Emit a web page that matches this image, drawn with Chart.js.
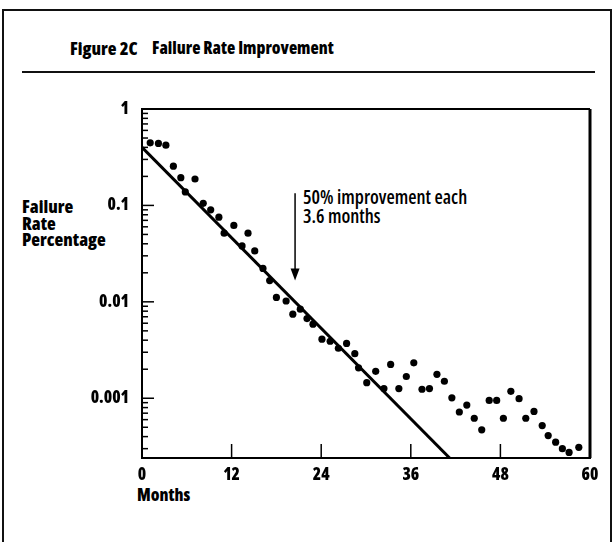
<!DOCTYPE html>
<html>
<head>
<meta charset="utf-8">
<script src="https://cdn.jsdelivr.net/npm/chart.js@4/dist/chart.umd.min.js"></script>
<style>
  body { margin: 0; background: #fff; }
  #wrap { position: relative; width: 614px; height: 542px; overflow: hidden; background: #fff; }
  #chart { position: absolute; left: 0; top: 0; }
  .txt { position: absolute; font-family: "Open Sans", Arial, sans-serif; font-stretch: 75%; color: #000; white-space: nowrap; }
  .b { font-weight: 800; }
  .rule { position: absolute; background: #111; }
</style>
</head>
<body>
<div id="wrap">
  <div class="rule" style="left:2px; top:9px; width:610px; height:2px;"></div>
  <div class="rule" style="left:2px; top:9px; width:2px; height:533px;"></div>
  <div class="rule" style="left:610px; top:9px; width:2px; height:533px;"></div>
  <div class="txt b" style="left:70px; top:36px; font-size:18px;">Figure 2C</div>
  <div class="txt b" style="left:152px; top:36px; font-size:17px;">Failure Rate Improvement</div>
  <div class="rule" style="left:22px; top:71px; width:573px; height:2px;"></div>
  <div class="txt b" style="left:22px; top:198px; font-size:18px; line-height:16.5px;">Failure<br>Rate<br>Percentage</div>
  <div class="txt b" style="left:137px; top:483px; font-size:17px;">Months</div>
  <div class="txt" style="left:303px; top:188px; font-size:19px; font-weight:600; line-height:19px;">50% improvement each<br>3.6 months</div>
  <canvas id="chart" width="614" height="542"></canvas>
</div>
<script>
// scatter points (month, failure rate %)
const months = [1.1, 2.2, 3.2, 4.2, 5.2, 5.8, 7.1, 8.2, 9.2, 10.3,
  11.0, 12.3, 13.4, 14.2, 15.1, 16.2, 17.1, 18.0, 19.3, 20.2,
  21.2, 22.1, 22.9, 24.1, 25.2, 26.3, 27.4, 28.5, 29.0, 30.1,
  31.3, 32.4, 33.3, 34.4, 35.4, 36.4, 37.5, 38.5, 39.5, 40.5,
  41.5, 42.5, 43.5, 44.5, 45.5, 46.5, 47.5, 48.4, 49.4, 50.5,
  51.4, 52.5, 53.6, 54.4, 55.4, 56.3, 57.2, 58.5];
const failureRate = [0.446, 0.439, 0.422, 0.255, 0.194, 0.138, 0.188, 0.105, 0.09, 0.0756,
  0.0515, 0.062, 0.038, 0.0515, 0.0337, 0.0222, 0.0166, 0.0111, 0.0102, 0.00745,
  0.0084, 0.0067, 0.00586, 0.0041, 0.0039, 0.0033, 0.0037, 0.0029, 0.00207, 0.00145,
  0.0019, 0.00126, 0.00224, 0.00126, 0.00168, 0.00233, 0.00124, 0.00126, 0.00177, 0.0015,
  0.00101, 0.00072, 0.00085, 0.00062, 0.00047, 0.00095, 0.00095, 0.00062, 0.00118, 0.00099,
  0.00062, 0.00073, 0.00052, 0.00041, 0.00035, 0.0003, 0.000274, 0.00031];

// fitted trend line
const fitMonths = [0, 41.2];
const fitRate = [0.4, 0.00024];

const xTicks = [0, 12, 24, 36, 48, 60];
const yTicks = [1, 0.1, 0.01, 0.001];
const yMin = 0.00024;
const yMax = 1;

// arrow annotation (month, top value, tip value)
const arrowMonth = 20.5;
const arrowTop = 0.1334;
const arrowTip = 0.0166;

const labelFont = { family: '"Open Sans", Arial, sans-serif', size: 17, weight: '800 ultra-condensed' };

function isDecade(v) {
  const l = Math.log10(v);
  return Math.abs(l - Math.round(l)) < 1e-6;
}

const framePlugin = {
  id: 'frame',
  afterDraw(chart) {
    const ctx = chart.ctx;
    const a = chart.chartArea;
    const xs = chart.scales.x;
    const ys = chart.scales.y;
    ctx.save();
    ctx.strokeStyle = '#000';
    // top and right edge of plot box
    ctx.lineWidth = 2;
    ctx.beginPath();
    ctx.moveTo(a.left, a.top);
    ctx.lineTo(a.right, a.top);
    ctx.stroke();
    ctx.lineWidth = 3;
    ctx.beginPath();
    ctx.moveTo(a.right, a.top);
    ctx.lineTo(a.right, a.bottom);
    ctx.stroke();

    // inward ticks on the log axis
    ctx.lineWidth = 1.5;
    for (let e = -4; e <= 0; e++) {
      for (let s = 1; s <= 9; s++) {
        const v = s * Math.pow(10, e);
        if (v < yMin || v > yMax) continue;
        const y = ys.getPixelForValue(v);
        const len = s === 1 ? 12 : 6;
        ctx.beginPath();
        ctx.moveTo(a.left, y);
        ctx.lineTo(a.left + len, y);
        ctx.stroke();
      }
    }
    // inward ticks on the month axis
    xTicks.slice(1, -1).forEach((m) => {
      const x = xs.getPixelForValue(m);
      ctx.beginPath();
      ctx.moveTo(x, a.bottom);
      ctx.lineTo(x, a.bottom - 14);
      ctx.stroke();
    });

    // arrow
    const ax = xs.getPixelForValue(arrowMonth);
    const ay0 = ys.getPixelForValue(arrowTop);
    const ay1 = ys.getPixelForValue(arrowTip);
    ctx.lineWidth = 1.5;
    ctx.beginPath();
    ctx.moveTo(ax, ay0);
    ctx.lineTo(ax, ay1 - 10);
    ctx.stroke();
    ctx.fillStyle = '#000';
    ctx.beginPath();
    ctx.moveTo(ax - 4.5, ay1 - 12);
    ctx.lineTo(ax + 4.5, ay1 - 12);
    ctx.lineTo(ax, ay1);
    ctx.closePath();
    ctx.fill();
    ctx.restore();
  }
};

new Chart(document.getElementById('chart'), {
  type: 'scatter',
  data: {
    datasets: [
      {
        label: 'Failure rate',
        data: months.map((m, i) => ({ x: m, y: failureRate[i] })),
        pointRadius: 3.6,
        pointBackgroundColor: '#000',
        pointBorderWidth: 0,
        showLine: false,
      },
      {
        label: 'Trend',
        data: fitMonths.map((m, i) => ({ x: m, y: fitRate[i] })),
        showLine: true,
        borderColor: '#000',
        borderWidth: 3,
        pointRadius: 0,
      },
    ],
  },
  options: {
    responsive: false,
    animation: false,
    layout: { padding: { top: 109, right: 24, left: 0, bottom: 0 } },
    plugins: {
      legend: { display: false },
      tooltip: { enabled: false },
    },
    scales: {
      x: {
        type: 'linear',
        min: 0,
        max: 60,
        grid: { display: false, drawTicks: false },
        border: { display: true, color: '#000', width: 2 },
        afterBuildTicks: (s) => { s.ticks = xTicks.map((v) => ({ value: v })); },
        ticks: { color: '#000', font: labelFont, padding: 7, maxRotation: 0 },
        afterFit: (s) => { s.height = 84; },
      },
      y: {
        type: 'logarithmic',
        min: yMin,
        max: yMax,
        grid: { display: false, drawTicks: false },
        border: { display: true, color: '#000', width: 2 },
        afterBuildTicks: (s) => { s.ticks = yTicks.map((v) => ({ value: v })); },
        ticks: {
          color: '#000',
          font: labelFont,
          padding: 13,
          callback: (v) => (isDecade(v) ? String(v) : ''),
        },
        afterFit: (s) => { s.width = 142; },
      },
    },
  },
  plugins: [framePlugin],
});
</script>
</body>
</html>
